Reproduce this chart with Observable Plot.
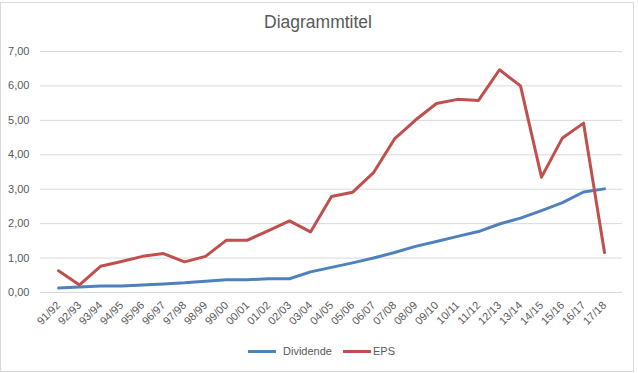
<!DOCTYPE html>
<html><head><meta charset="utf-8">
<script src="https://cdn.jsdelivr.net/npm/d3@7"></script>
<script src="https://cdn.jsdelivr.net/npm/@observablehq/plot@0.6"></script>
<style>
body{margin:0;background:#fff;}
#chart{position:relative;width:638px;height:373px;font-family:"Liberation Sans",Arial,sans-serif;color:#595959;overflow:hidden;}
#frame{position:absolute;left:0;top:2px;width:634px;height:370px;border:1px solid #d9d9d9;box-sizing:border-box;}
#title{position:absolute;top:12px;left:0;width:636px;text-align:center;font-size:17.5px;color:#595959;}
#plot{position:absolute;left:0;top:0;}
.lg{position:absolute;font-size:11px;line-height:11px;}
.sw{position:absolute;height:3px;}
</style></head>
<body>
<div id="chart">
  <div id="frame"></div>
  <div id="plot"></div>
  <div id="title">Diagrammtitel</div>
  <div id="legend"></div>
</div>
<script>
const years = ["91/92","92/93","93/94","94/95","95/96","96/97","97/98","98/99","99/00","00/01","01/02","02/03","03/04","04/05","05/06","06/07","07/08","08/09","09/10","10/11","11/12","12/13","13/14","14/15","15/16","16/17","17/18"];
const dividende = [0.13,0.16,0.19,0.19,0.22,0.25,0.28,0.33,0.37,0.37,0.40,0.40,0.60,0.73,0.86,1.00,1.16,1.34,1.48,1.63,1.77,1.99,2.16,2.38,2.61,2.92,3.01];
const eps = [0.63,0.22,0.76,0.90,1.05,1.13,0.89,1.05,1.52,1.52,1.80,2.08,1.76,2.79,2.91,3.48,4.46,5.01,5.49,5.61,5.58,6.47,6.00,3.35,4.49,4.92,1.16];
const seriesNames = ["Dividende","EPS"];
const colors = ["#4F81BD","#C0504D"];
const yTicks = [0,1,2,3,4,5,6,7];

const data = [];
years.forEach((y,i)=>{
  data.push({year:y, series:seriesNames[0], value:dividende[i]});
  data.push({year:y, series:seriesNames[1], value:eps[i]});
});

const chart = Plot.plot({
  width: 638,
  height: 345,
  marginTop: 51,
  marginBottom: 53,
  marginLeft: 40,
  marginRight: 16,
  style: {fontSize:"11px", fontFamily:'"Liberation Sans",Arial,sans-serif', color:"#595959", background:"transparent"},
  x: {type:"point", domain: years, padding: 0.5, label:null},
  y: {domain:[0,7], label:null},
  color: {domain: seriesNames, range: colors},
  marks: [
    Plot.gridY(yTicks, {stroke:"#d9d9d9", strokeOpacity:1, strokeWidth:1}),
    Plot.axisY(yTicks, {tickSize:0, tickPadding:11, tickFormat: d => d.toFixed(2).replace(".", ","), fill:"#595959", label:null}),
    Plot.axisX({tickSize:0, tickPadding:11, tickRotate:-45, fill:"#595959", label:null}),
    Plot.lineY(data, {x:"year", y:"value", z:"series", stroke:"series", strokeWidth:3, strokeLinejoin:"round", strokeLinecap:"round"})
  ]
});
document.getElementById("plot").appendChild(chart);

const legend = document.getElementById("legend");
const lgPos = [{sx:248, tx:283},{sx:343, tx:373}];
seriesNames.forEach((n,i)=>{
  const sw = document.createElement("div");
  sw.className = "sw";
  sw.style.left = lgPos[i].sx + "px";
  sw.style.top = "350px";
  sw.style.width = "28px";
  sw.style.background = colors[i];
  legend.appendChild(sw);
  const t = document.createElement("div");
  t.className = "lg";
  t.style.left = lgPos[i].tx + "px";
  t.style.top = "346px";
  t.textContent = n;
  legend.appendChild(t);
});
</script>
</body></html>
